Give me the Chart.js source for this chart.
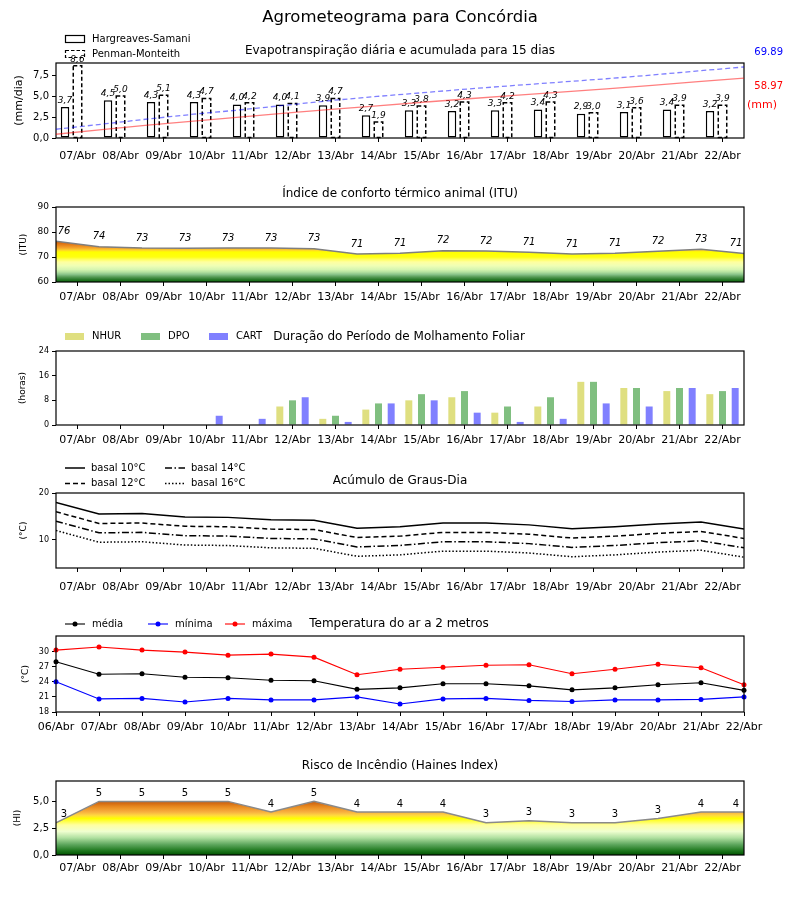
<!DOCTYPE html>
<html lang="pt-BR">
<head>
<meta charset="utf-8">
<title>Agrometeograma para Concórdia</title>
<script src="https://cdn.jsdelivr.net/npm/chart.js@4.4.1/dist/chart.umd.min.js"></script>
<style>
  body { margin: 0; background: #fff; }
  #painel { position: relative; width: 800px; height: 900px; }
  #painel canvas { position: absolute; left: 0; }
</style>
</head>
<body>
<div id="painel">
  <canvas id="etp" width="800" height="170" style="top:0px"></canvas>
  <canvas id="etpAcum" width="800" height="170" style="top:0px"></canvas>
  <canvas id="itu" width="800" height="140" style="top:170px"></canvas>
  <canvas id="molh" width="800" height="145" style="top:310px"></canvas>
  <canvas id="graus" width="800" height="145" style="top:455px"></canvas>
  <canvas id="temp" width="800" height="140" style="top:600px"></canvas>
  <canvas id="haines" width="800" height="160" style="top:740px"></canvas>
</div>
<script>
const dias = ['07/Abr', '08/Abr', '09/Abr', '10/Abr', '11/Abr', '12/Abr', '13/Abr', '14/Abr',
              '15/Abr', '16/Abr', '17/Abr', '18/Abr', '19/Abr', '20/Abr', '21/Abr', '22/Abr'];
const diasTemp = ['06/Abr', '07/Abr', '08/Abr', '09/Abr', '10/Abr', '11/Abr', '12/Abr', '13/Abr', '14/Abr',
                  '15/Abr', '16/Abr', '17/Abr', '18/Abr', '19/Abr', '20/Abr', '21/Abr', '22/Abr'];

// evapotranspiração (mm/dia) e acumulada (mm)
const etoHS = [3.7, 4.5, 4.3, 4.3, 4.0, 4.0, 3.9, 2.7, 3.3, 3.2, 3.3, 3.4, 2.9, 3.1, 3.4, 3.2];
const etoPM = [8.6, 5.0, 5.1, 4.7, 4.2, 4.1, 4.7, 1.9, 3.8, 4.3, 4.2, 4.3, 3.0, 3.6, 3.9, 3.9];
const acumHS = [3.7, 8.3, 12.6, 16.6, 20.5, 24.4, 28.2, 31.6, 35.2, 38.6, 41.9, 45.2, 48.4, 51.8, 55.4, 58.97];
const acumPM = [8.6, 13.6, 18.7, 23.4, 27.6, 32.2, 36.9, 40.9, 44.6, 48.3, 51.7, 55.0, 58.3, 62.0, 66.0, 69.89];

// ITU
const itu = [76.3, 74.1, 73.6, 73.5, 73.6, 73.6, 73.3, 71.2, 71.5, 72.5, 72.4, 71.9, 71.2, 71.5, 72.3, 73.1, 71.4];

// molhamento foliar (horas)
const nhur = [0, 0, 0, 0, 0, 6, 2, 5, 8, 9, 4, 6, 14, 12, 11, 10];
const dpo  = [0, 0, 0, 0, 0, 8, 3, 7, 10, 11, 6, 9, 14, 12, 12, 11];
const cart = [0, 0, 0, 3, 2, 9, 1, 7, 8, 4, 1, 2, 7, 6, 12, 12];

// graus-dia
const basal10 = [18.0, 15.5, 15.6, 14.9, 14.8, 14.3, 14.2, 12.5, 12.8, 13.6, 13.6, 13.2, 12.4, 12.8, 13.4, 13.8, 12.3];
const basal12 = [16.0, 13.5, 13.6, 12.9, 12.8, 12.3, 12.2, 10.5, 10.8, 11.6, 11.6, 11.2, 10.4, 10.8, 11.4, 11.8, 10.3];
const basal14 = [14.0, 11.5, 11.6, 10.9, 10.8, 10.3, 10.2, 8.5, 8.8, 9.6, 9.6, 9.2, 8.4, 8.8, 9.4, 9.8, 8.3];
const basal16 = [12.0, 9.5, 9.6, 8.9, 8.8, 8.3, 8.2, 6.5, 6.8, 7.6, 7.6, 7.2, 6.4, 6.8, 7.4, 7.8, 6.3];

// temperatura do ar (°C)
const tMedia = [28.0, 25.5, 25.6, 24.9, 24.8, 24.3, 24.2, 22.5, 22.8, 23.6, 23.6, 23.2, 22.4, 22.8, 23.4, 23.8, 22.3];
const tMin   = [24.0, 20.6, 20.7, 20.0, 20.7, 20.4, 20.4, 21.0, 19.6, 20.6, 20.7, 20.3, 20.1, 20.4, 20.4, 20.5, 21.0];
const tMax   = [30.3, 30.9, 30.3, 29.9, 29.3, 29.5, 28.9, 25.4, 26.5, 26.9, 27.3, 27.4, 25.6, 26.5, 27.5, 26.8, 23.4];

// Haines
const haines = [3, 5, 5, 5, 5, 4, 5, 4, 4, 4, 3, 3.2, 3, 3, 3.4, 4, 4];

// ticks dos eixos y
const ticksEtp = [0, 2.5, 5, 7.5];
const ticksItu = [60, 70, 80, 90];
const ticksMolh = [0, 8, 16, 24];
const ticksGraus = [10, 20];
const ticksTemp = [18, 21, 24, 27, 30];
const ticksHaines = [0, 2.5, 5];

// ---- configuração geral ----
Chart.defaults.font.family = '"DejaVu Sans", sans-serif';
Chart.defaults.color = '#000';
Chart.defaults.animation = false;
Chart.defaults.plugins.legend.display = false;
Chart.defaults.plugins.tooltip.enabled = false;

const ESQ = 56, DIR = 744;
const virgula = v => v.toFixed(1).replace('.', ',');
const inteiro = v => String(v);
const pontos = arr => arr.map((v, i) => ({x: i, y: v}));

function marcas() {
  return {display: true, drawOnChartArea: false, drawTicks: true, tickLength: 4, color: '#000', offset: false};
}

function eixoX(labels, p, pad, offset) {
  return {
    type: 'category', labels: labels, offset: offset,
    grid: marcas(), border: {display: false},
    ticks: {font: {size: 11}, padding: pad, autoSkip: false, maxRotation: 0, minRotation: 0},
    afterFit: s => { s.height = p.top + p.h - p.bottom; }
  };
}

function eixoY(p, min, max, valores, fmt, tam, titulo, tx, ttam) {
  return {
    type: 'linear', min: min, max: max,
    grid: marcas(), border: {display: false},
    afterBuildTicks: s => { s.ticks = valores.map(v => ({value: v})); },
    afterFit: s => { s.width = ESQ; },
    ticks: {font: {size: tam}, padding: 3, callback: fmt},
    title: {display: true, text: titulo, font: {size: ttam}, padding: {top: tx - ttam * 0.6, bottom: 0}}
  };
}

// eixo x escondido para séries que vão de borda a borda do painel
const eixoLinha = n => ({type: 'linear', display: false, offset: false, min: 0, max: n});

function base(p) {
  return {
    responsive: false, maintainAspectRatio: false, animation: false, events: [],
    layout: {padding: {left: 0, right: 800 - DIR, top: p.areaTop - p.top, bottom: 0}}
  };
}

function texto(ctx, s, x, y, o) {
  o = o || {};
  ctx.save();
  ctx.font = (o.estilo || 'normal') + ' ' + (o.tam || 10) + 'px "DejaVu Sans"';
  ctx.fillStyle = o.cor || '#000';
  ctx.textAlign = o.alinha || 'left';
  ctx.textBaseline = o.linha || 'middle';
  ctx.fillText(s, x, y);
  ctx.restore();
}

function moldura(chart) {
  const {ctx, chartArea: a} = chart;
  ctx.save();
  ctx.strokeStyle = '#000';
  ctx.lineWidth = 1.2;
  ctx.strokeRect(a.left, a.top, a.right - a.left, a.bottom - a.top);
  ctx.restore();
}

function traco(ctx, x1, x2, y, dash, cor, larg) {
  ctx.save();
  ctx.strokeStyle = cor || '#000';
  ctx.lineWidth = larg || 1.5;
  ctx.setLineDash(dash || []);
  ctx.beginPath(); ctx.moveTo(x1, y); ctx.lineTo(x2, y); ctx.stroke();
  ctx.restore();
}

// rótulos dos pontos de uma série de área
function rotulos(chart, offs, estilo) {
  const {ctx, chartArea: a} = chart;
  const meta = chart.getDatasetMeta(0);
  meta.data.forEach((pt, i) => {
    const v = chart.data.datasets[0].data[i].y;
    const x = Math.min(Math.max(pt.x, a.left + 8), a.right - 8);
    texto(ctx, String(Math.floor(v)), x, pt.y - offs, {tam: 10, estilo: estilo, alinha: 'center', linha: 'bottom'});
  });
}

function degrade(paradas) {
  return function (c) {
    const chart = c.chart;
    if (!chart.chartArea) return 'rgba(0,0,0,0)';
    const y = chart.scales.y;
    const g = chart.ctx.createLinearGradient(0, y.getPixelForValue(y.min), 0, y.getPixelForValue(y.max));
    paradas.forEach(([v, cor]) => g.addColorStop((v - y.min) / (y.max - y.min), cor));
    return g;
  };
}

const coresItu = [[60, '#0a640a'], [61, '#2a7a2a'], [62, '#559a55'], [63, '#88c288'], [64, '#b5e2a0'],
  [65, '#d6f5b0'], [66.5, '#efffb5'], [68, '#ffffa0'], [69, '#ffff60'], [70, '#ffff10'], [72, '#ffff00'],
  [72.7, '#ffd42a'], [73.5, '#f7aa2c'], [74.5, '#eb8a1e'], [75.5, '#dc6e10'], [76.5, '#cc5c00']];
const coresHaines = [[0, '#005200'], [0.4, '#1e781e'], [1.0, '#60a860'], [1.6, '#b0e0a0'], [2.2, '#f0ffd0'],
  [2.8, '#ffffa0'], [3.4, '#ffff00'], [3.7, '#ffd840'], [4.0, '#f8b040'], [4.5, '#e88a20'],
  [5.0, '#c85a0a']];

// ---- 1. evapotranspiração ----
const P1 = {top: 0, h: 170, areaTop: 63, bottom: 138};
const barra = {categoryPercentage: 0.87, barPercentage: 0.68};
new Chart(document.getElementById('etp'), {
  type: 'bar',
  data: {
    labels: dias,
    datasets: [
      Object.assign({label: 'Hargreaves-Samani', data: etoHS, backgroundColor: '#fff', borderColor: '#000',
        borderWidth: 1.5, borderSkipped: false}, barra),
      Object.assign({label: 'Penman-Monteith', data: etoPM, backgroundColor: '#fff', borderWidth: 0}, barra),
      Object.assign({label: '', data: []}, barra)
    ]
  },
  options: Object.assign(base(P1), {
    scales: {
      x: eixoX(dias, P1, 7.5, true),
      y: eixoY(P1, 0, 8.93, ticksEtp, virgula, 10, '(mm/dia)', 19, 11)
    }
  }),
  plugins: [{
    id: 'etpExtra',
    afterDatasetDraw(chart, args) {
      if (args.index !== 1) return;
      const ctx = chart.ctx;
      ctx.save();
      ctx.strokeStyle = '#000'; ctx.lineWidth = 1.5; ctx.setLineDash([4, 2.5]);
      args.meta.data.forEach(b => {
        ctx.strokeRect(b.x - b.width / 2, b.y, b.width, b.base - b.y);
      });
      ctx.restore();
    },
    afterDraw(chart) {
      const ctx = chart.ctx;
      moldura(chart);
      [0, 1].forEach(d => {
        chart.getDatasetMeta(d).data.forEach((b, i) => {
          texto(ctx, virgula(chart.data.datasets[d].data[i]), b.x, b.y - 2, {tam: 9, estilo: 'italic', alinha: 'center', linha: 'bottom'});
        });
      });
      texto(ctx, 'Agrometeograma para Concórdia', 400, 18, {tam: 16.5, alinha: 'center'});
      texto(ctx, 'Evapotranspiração diária e acumulada para 15 dias', 400, 51, {tam: 12, alinha: 'center'});
      ctx.save();
      ctx.strokeStyle = '#000'; ctx.lineWidth = 1.2;
      ctx.strokeRect(65.5, 35.5, 19, 7);
      ctx.setLineDash([3.5, 2]);
      ctx.strokeRect(65.5, 50.5, 19, 7);
      ctx.restore();
      texto(ctx, 'Hargreaves-Samani', 92, 39, {tam: 10});
      texto(ctx, 'Penman-Monteith', 92, 54, {tam: 10});
      texto(ctx, acumPM[acumPM.length - 1].toFixed(2), 783, 52, {tam: 10, cor: '#0000ff', alinha: 'right'});
      texto(ctx, acumHS[acumHS.length - 1].toFixed(2), 783, 86, {tam: 10, cor: '#ff0000', alinha: 'right'});
      texto(ctx, '(mm)', 777, 105, {tam: 11, cor: '#ff0000', alinha: 'right'});
    }
  }]
});

// acumuladas: mesmo painel, eixo secundário escondido
new Chart(document.getElementById('etpAcum'), {
  type: 'line',
  data: {
    datasets: [
      {label: 'acumulada HS', data: pontos(acumHS), borderColor: 'rgba(255,0,0,0.5)', borderWidth: 1.3, pointRadius: 0},
      {label: 'acumulada PM', data: pontos(acumPM), borderColor: 'rgba(0,0,255,0.5)', borderWidth: 1.3,
        borderDash: [5, 3], pointRadius: 0}
    ]
  },
  options: {
    responsive: false, maintainAspectRatio: false, animation: false, events: [],
    layout: {padding: {left: ESQ, right: 800 - DIR, top: P1.areaTop - P1.top, bottom: P1.top + P1.h - P1.bottom}},
    scales: {
      x: eixoLinha(15),
      y: {type: 'linear', display: false, min: 0, max: 73.8}
    }
  }
});

// ---- 2. ITU ----
const P2 = {top: 170, h: 140, areaTop: 207, bottom: 282};
new Chart(document.getElementById('itu'), {
  type: 'line',
  data: {
    labels: dias,
    datasets: [{label: 'ITU', data: pontos(itu), xAxisID: 'xl', yAxisID: 'y', borderColor: '#7f7f7f',
      borderWidth: 1.5, pointRadius: 0, fill: 'start', backgroundColor: degrade(coresItu)}]
  },
  options: Object.assign(base(P2), {
    scales: {
      x: eixoX(dias, P2, 4.5, true),
      xl: eixoLinha(16),
      y: eixoY(P2, 60, 90, ticksItu, inteiro, 9, '(ITU)', 23.5, 9)
    }
  }),
  plugins: [{
    id: 'ituExtra',
    afterDraw(chart) {
      moldura(chart);
      rotulos(chart, 5, 'italic');
      texto(chart.ctx, 'Índice de conforto térmico animal (ITU)', 400, 24, {tam: 12, alinha: 'center'});
    }
  }]
});

// ---- 3. molhamento foliar ----
const P3 = {top: 310, h: 145, areaTop: 351, bottom: 425};
const corMolh = ['#dfdf80', '#80bf80', '#8080ff'];
const barraM = {categoryPercentage: 0.885, barPercentage: 0.55, borderWidth: 0};
new Chart(document.getElementById('molh'), {
  type: 'bar',
  data: {
    labels: dias,
    datasets: [
      Object.assign({label: 'NHUR', data: nhur, backgroundColor: corMolh[0]}, barraM),
      Object.assign({label: 'DPO', data: dpo, backgroundColor: corMolh[1]}, barraM),
      Object.assign({label: 'CART', data: cart, backgroundColor: corMolh[2]}, barraM)
    ]
  },
  options: Object.assign(base(P3), {
    scales: {
      x: eixoX(dias, P3, 4.5, true),
      y: eixoY(P3, 0, 24, ticksMolh, inteiro, 8, '(horas)', 23, 9)
    }
  }),
  plugins: [{
    id: 'molhExtra',
    afterDraw(chart) {
      const ctx = chart.ctx;
      moldura(chart);
      const leg = [['NHUR', 65], ['DPO', 141], ['CART', 209]];
      leg.forEach(([t, x], i) => {
        ctx.fillStyle = corMolh[i];
        ctx.fillRect(x, 23, 19, 7);
        texto(ctx, t, x + 27, 26.5, {tam: 10});
      });
      texto(ctx, 'Duração do Período de Molhamento Foliar', 399, 27, {tam: 12, alinha: 'center'});
    }
  }]
});

// ---- 4. graus-dia ----
const P4 = {top: 455, h: 145, areaTop: 493, bottom: 568};
const tracos = [[], [5, 3], [7, 2.5, 1.5, 2.5], [1.5, 2]];
const linhaG = (label, data, i) => ({label: label, data: pontos(data), xAxisID: 'xl', yAxisID: 'y',
  borderColor: '#000', borderWidth: 1.5, borderDash: tracos[i], pointRadius: 0});
new Chart(document.getElementById('graus'), {
  type: 'line',
  data: {
    labels: dias,
    datasets: [
      linhaG('basal 10°C', basal10, 0),
      linhaG('basal 12°C', basal12, 1),
      linhaG('basal 14°C', basal14, 2),
      linhaG('basal 16°C', basal16, 3)
    ]
  },
  options: Object.assign(base(P4), {
    scales: {
      x: eixoX(dias, P4, 8.5, true),
      xl: eixoLinha(16),
      y: eixoY(P4, 4, 20, ticksGraus, inteiro, 8, '(°C)', 24, 9)
    }
  }),
  plugins: [{
    id: 'grausExtra',
    afterDraw(chart) {
      const ctx = chart.ctx;
      moldura(chart);
      const leg = [[65, 13], [65, 28.5], [165, 13], [165, 28.5]];
      chart.data.datasets.forEach((d, i) => {
        const [x, y] = leg[i];
        traco(ctx, x, x + 20, y, tracos[i], '#000', 1.5);
        texto(ctx, d.label, x + 26, y, {tam: 10});
      });
      texto(ctx, 'Acúmulo de Graus-Dia', 400, 26, {tam: 12, alinha: 'center'});
    }
  }]
});

// ---- 5. temperatura ----
const P5 = {top: 600, h: 140, areaTop: 636, bottom: 712};
const linhaT = (label, data, cor) => ({label: label, data: data, borderColor: cor, backgroundColor: cor,
  borderWidth: 1.1, pointRadius: 2.5, pointBorderWidth: 0, pointBackgroundColor: cor});
new Chart(document.getElementById('temp'), {
  type: 'line',
  data: {
    labels: diasTemp,
    datasets: [
      linhaT('média', tMedia, '#000000'),
      linhaT('mínima', tMin, '#0000ff'),
      linhaT('máxima', tMax, '#ff0000')
    ]
  },
  options: Object.assign(base(P5), {
    scales: {
      x: eixoX(diasTemp, P5, 5, false),
      y: eixoY(P5, 18, 33.1, ticksTemp, inteiro, 8, '(°C)', 25.4, 9)
    }
  }),
  plugins: [{
    id: 'tempExtra',
    afterDraw(chart) {
      const ctx = chart.ctx;
      moldura(chart);
      const leg = [65, 148, 225];
      chart.data.datasets.forEach((d, i) => {
        const x = leg[i];
        traco(ctx, x, x + 20, 24, [], d.borderColor, 1.1);
        ctx.save();
        ctx.fillStyle = d.borderColor;
        ctx.beginPath(); ctx.arc(x + 10, 24, 2.5, 0, Math.PI * 2); ctx.fill();
        ctx.restore();
        texto(ctx, d.label, x + 27, 24, {tam: 10});
      });
      texto(ctx, 'Temperatura do ar a 2 metros', 399, 24, {tam: 12, alinha: 'center'});
    }
  }]
});

// ---- 6. Haines ----
const P6 = {top: 740, h: 160, areaTop: 781, bottom: 855};
new Chart(document.getElementById('haines'), {
  type: 'line',
  data: {
    labels: dias,
    datasets: [{label: 'Haines', data: pontos(haines), xAxisID: 'xl', yAxisID: 'y', borderColor: '#8a8a8a',
      borderWidth: 1.5, pointRadius: 0, fill: 'start', backgroundColor: degrade(coresHaines)}]
  },
  options: Object.assign(base(P6), {
    scales: {
      x: eixoX(dias, P6, 2.5, true),
      xl: eixoLinha(16),
      y: eixoY(P6, 0, 6.9, ticksHaines, virgula, 10, '(HI)', 18, 9)
    }
  }),
  plugins: [{
    id: 'hainesExtra',
    afterDraw(chart) {
      moldura(chart);
      rotulos(chart, 3, 'normal');
      texto(chart.ctx, 'Risco de Incêndio (Haines Index)', 400, 26, {tam: 12, alinha: 'center'});
    }
  }]
});
</script>
</body>
</html>
